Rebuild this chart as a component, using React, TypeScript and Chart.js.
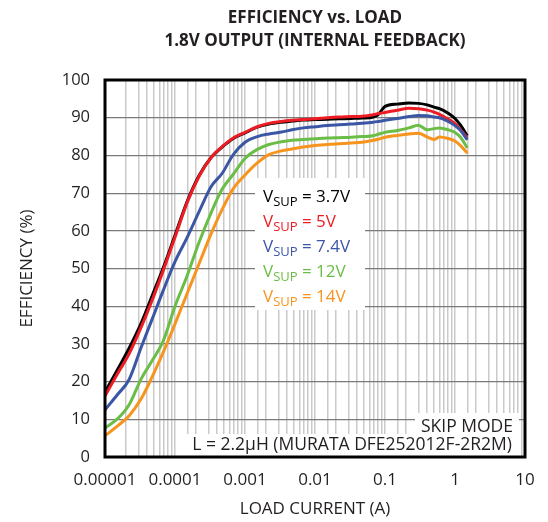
import React, { useEffect, useRef } from 'react';
import { Chart, registerables } from 'chart.js';

Chart.register(...registerables);

// Load current (A)
const loadCurrent = [
  1e-5, 1.5e-5, 2.2e-5, 3.3e-5, 4.7e-5, 6.8e-5,
  1e-4, 1.5e-4, 2.2e-4, 3.3e-4, 4.7e-4, 6.8e-4,
  1e-3, 1.5e-3, 2.2e-3, 3.3e-3, 4.7e-3, 6.8e-3,
  0.01, 0.015, 0.022, 0.033, 0.047, 0.068, 0.08,
  0.1, 0.15, 0.22, 0.3, 0.4, 0.5, 0.6, 0.8, 1.0, 1.2, 1.5,
];

// Efficiency (%) per supply voltage
const eff3v7 = [
  17.2, 23.1, 28.8, 35.6, 42.7, 50.2,
  58.8, 67.9, 74.6, 79.5, 82.2, 84.5,
  86.0, 87.5, 88.3, 88.8, 89.1, 89.4,
  89.5, 89.6, 89.7, 89.8, 89.9, 90.2, 90.8,
  93.0, 93.6, 93.9, 93.8, 93.4, 92.8, 92.4, 91.2, 89.8, 88.0, 85.2,
];
const eff5v = [
  16.2, 22.0, 27.3, 34.5, 41.5, 49.5,
  58.3, 67.6, 74.4, 79.5, 82.3, 84.6,
  86.1, 87.6, 88.5, 89.0, 89.3, 89.5,
  89.7, 90.0, 90.2, 90.3, 90.4, 90.8, 91.1,
  91.4, 92.0, 92.5, 92.4, 92.0, 91.5, 90.9, 89.6, 88.4, 86.8, 84.6,
];
const eff7v4 = [
  12.5, 16.5, 20.5, 29.2, 36.5, 44.2,
  51.8, 58.3, 65.0, 71.8, 75.2, 80.2,
  83.5, 85.0, 85.7, 86.2, 86.8, 87.3,
  87.6, 87.9, 88.1, 88.3, 88.5, 88.8, 89.0,
  89.3, 89.8, 90.3, 90.6, 90.5, 90.2, 90.0, 89.0, 87.9, 86.6, 84.1,
];
const eff12v = [
  7.7, 10.1, 13.8, 20.8, 25.5, 30.8,
  40.0, 48.2, 56.9, 64.9, 71.0, 75.0,
  79.2, 81.6, 82.9, 83.6, 84.0, 84.2,
  84.4, 84.6, 84.7, 84.8, 85.0, 85.2, 85.6,
  86.1, 86.6, 87.3, 88.0, 86.8, 87.1, 87.3, 86.8, 86.1, 84.8, 82.0,
];
const eff14v = [
  5.6, 8.2, 10.9, 15.5, 21.2, 27.8,
  35.3, 43.5, 51.2, 59.3, 65.6, 71.2,
  74.8, 78.0, 80.2, 81.2, 81.7, 82.2,
  82.6, 82.9, 83.1, 83.3, 83.5, 84.0, 84.3,
  84.8, 85.3, 85.7, 85.9, 84.9, 84.2, 84.9, 84.5, 83.8, 82.6, 80.6,
];

const supplyLabels = ['3.7V', '5V', '7.4V', '12V', '14V'];
const seriesColors = ['#000000', '#ed1c24', '#3c56a6', '#6abd45', '#f7941d'];
const seriesValues = [eff3v7, eff5v, eff7v4, eff12v, eff14v];

const xTickLabels = ['0.00001', '0.0001', '0.001', '0.01', '0.1', '1', '10'];

const titleLines = ['EFFICIENCY vs. LOAD', '1.8V OUTPUT (INTERNAL FEEDBACK)'];
const noteSkip = 'SKIP MODE';
const noteInductor = 'L = 2.2µH (MURATA DFE252012F-2R2M)';

const FONT = '"Open Sans", "Noto Sans", sans-serif';
const TEXT = '#231f20';

const decor = {
  id: 'decor',
  beforeDatasetsDraw(chart: any) {
    const { ctx, chartArea } = chart;
    const { right, bottom } = chartArea;
    ctx.save();
    // legend box
    ctx.fillStyle = '#ffffff';
    ctx.fillRect(255, 178, 110, 132);
    // note boxes
    ctx.fillRect(415, 413, right - 415 - 6, bottom - 413);
    ctx.fillRect(186, 434, right - 186 - 8, bottom - 434);

    // legend text
    ctx.textBaseline = 'alphabetic';
    ctx.textAlign = 'left';
    supplyLabels.forEach((lab, i) => {
      const x = 263;
      const y = 202 + i * 25;
      ctx.fillStyle = seriesColors[i];
      ctx.font = `17px ${FONT}`;
      ctx.fillText('V', x, y);
      let w = ctx.measureText('V').width;
      ctx.font = `13px ${FONT}`;
      ctx.fillText('SUP', x + w, y + 4);
      w += ctx.measureText('SUP').width;
      ctx.font = `17px ${FONT}`;
      ctx.fillText(' = ' + lab, x + w, y);
    });

    // notes
    ctx.fillStyle = TEXT;
    ctx.font = `17.5px ${FONT}`;
    ctx.textAlign = 'right';
    ctx.fillText(noteSkip, 513, 432);
    ctx.fillText(noteInductor, 512, 450);
    ctx.restore();
  },
  afterDatasetsDraw(chart: any) {
    const { ctx, chartArea } = chart;
    const { left, right, top, bottom } = chartArea;
    ctx.save();
    ctx.strokeStyle = '#000';
    ctx.lineWidth = 3;
    ctx.strokeRect(left, top, right - left, bottom - top);
    ctx.restore();
  },
  afterDraw(chart: any) {
    const { ctx, chartArea } = chart;
    const cx = (chartArea.left + chartArea.right) / 2;
    ctx.save();
    ctx.fillStyle = TEXT;
    ctx.textAlign = 'center';
    ctx.textBaseline = 'alphabetic';
    ctx.font = `bold 17px ${FONT}`;
    ctx.fillText(titleLines[0], cx, 23);
    ctx.fillText(titleLines[1], cx, 46);
    ctx.restore();
  },
};

export default function App() {
  const ref = useRef<HTMLCanvasElement>(null);
  useEffect(() => {
    document.body.style.margin = '0';
    const canvas = ref.current!;
    const chart = new Chart(canvas, {
      type: 'line',
      data: {
        datasets: seriesValues.map((vals, i) => ({
          label: 'VSUP = ' + supplyLabels[i],
          data: loadCurrent.map((x, j) => ({ x, y: vals[j] })),
          borderColor: seriesColors[i],
          backgroundColor: seriesColors[i],
          borderWidth: 3,
          pointRadius: 0,
          fill: false,
          order: 5 - i,
          cubicInterpolationMode: 'monotone' as const,
        })),
      },
      options: {
        responsive: false,
        animation: false,
        layout: { padding: { top: 80, right: 23, left: 0, bottom: 0 } },
        plugins: {
          legend: { display: false },
          tooltip: { enabled: false },
          title: { display: false },
        },
        scales: {
          x: {
            type: 'logarithmic',
            min: 1e-5,
            max: 10,
            grid: { color: '#cacaca', lineWidth: 1.5, drawTicks: false },
            border: { display: false },
            ticks: {
              autoSkip: false,
              maxRotation: 0,
              padding: 13,
              color: TEXT,
              font: { family: FONT, size: 17 },
              callback: (v: any) => {
                const e = Math.log10(Number(v));
                const r = Math.round(e);
                if (Math.abs(e - r) < 1e-6) return xTickLabels[r + 5] ?? '';
                return '';
              },
            },
            title: {
              display: true,
              text: 'LOAD CURRENT (A)',
              color: TEXT,
              font: { family: FONT, size: 17 },
              padding: { top: 0, bottom: 3 },
            },
            afterFit: (s: any) => {
              s.height = 65;
            },
          },
          y: {
            min: 0,
            max: 100,
            grid: { color: '#7a7a7a', lineWidth: 1.2, drawTicks: false },
            border: { display: false },
            ticks: {
              stepSize: 10,
              padding: 15,
              color: TEXT,
              font: { family: FONT, size: 16.5 },
            },
            title: {
              display: true,
              text: 'EFFICIENCY (%)',
              color: TEXT,
              font: { family: FONT, size: 17 },
              padding: { top: 17, bottom: 0 },
            },
            afterFit: (s: any) => {
              s.width = 105;
            },
          },
        },
      },
      plugins: [decor],
    });
    return () => chart.destroy();
  }, []);
  return (
    <div style={{ position: 'absolute', left: 0, top: 0, width: 548, height: 522 }}>
      <canvas ref={ref} width={548} height={522} style={{ display: 'block' }} />
    </div>
  );
}
